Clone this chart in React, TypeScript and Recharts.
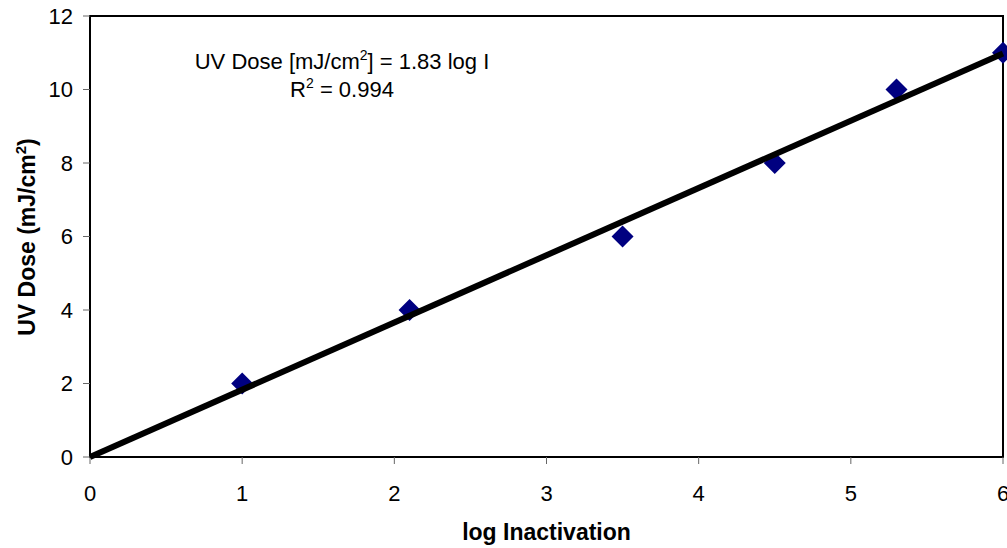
import React from "react";
import {
  ScatterChart,
  Scatter,
  XAxis,
  YAxis,
  ReferenceArea,
  Label,
} from "recharts";

// measured points: log inactivation vs UV dose
const logInactivation = [1, 2.1, 3.5, 4.5, 5.3, 6];
const uvDose = [2, 4, 6, 8, 10, 11];

// fitted trend: UV Dose = 1.83 log I
const trendX = [0, 6];
const trendY = [0, 10.98];

const xTicks = [0, 1, 2, 3, 4, 5, 6];
const yTicks = [0, 2, 4, 6, 8, 10, 12];

const FONT = '"Liberation Sans", Arial, sans-serif';

const points = logInactivation.map((x, i) => ({ x, y: uvDose[i] }));
const trend = trendX.map((x, i) => ({ x, y: trendY[i] }));

const Diamond = (props: any) => {
  const { cx, cy } = props;
  const r = 11;
  return (
    <polygon
      points={`${cx},${cy - r} ${cx + r},${cy} ${cx},${cy + r} ${cx - r},${cy}`}
      fill="#000080"
    />
  );
};

const NoDot = () => <g />;

const Equation = (props: any) => {
  const vb = props.viewBox || { x: 90, y: 16 };
  const cx = vb.x + 252;
  return (
    <g fontFamily={FONT} fontSize={22} fill="#000">
      <text x={cx} y={vb.y + 53} textAnchor="middle">
        UV Dose [mJ/cm
        <tspan dy={-9} fontSize={14}>
          2
        </tspan>
        <tspan dy={9}>] = 1.83 log I</tspan>
      </text>
      <text x={cx} y={vb.y + 81} textAnchor="middle">
        R
        <tspan dy={-9} fontSize={14}>
          2
        </tspan>
        <tspan dy={9}> = 0.994</tspan>
      </text>
    </g>
  );
};

const YTitle = () => (
  <text
    x={35}
    y={237}
    transform="rotate(-90, 35, 237)"
    textAnchor="middle"
    fontFamily={FONT}
    fontSize={23}
    fontWeight="bold"
    fill="#000"
  >
    UV Dose (mJ/cm
    <tspan dy={-9} fontSize={15}>
      2
    </tspan>
    <tspan dy={9}>)</tspan>
  </text>
);

export default function App() {
  const tickStyle = { fill: "#000", fontSize: 22, fontFamily: FONT };
  return (
    <div style={{ position: "absolute", left: 0, top: 0, background: "#fff" }}>
      <ScatterChart
        width={1007}
        height={548}
        margin={{ top: 16, right: 4, bottom: 0, left: 0 }}
      >
        <XAxis
          type="number"
          dataKey="x"
          domain={[0, 6]}
          ticks={xTicks}
          interval={0}
          height={91}
          tickSize={7}
          tickMargin={21}
          tick={tickStyle}
          axisLine={{ stroke: "#000", strokeWidth: 2 }}
          tickLine={{ stroke: "#666" }}
        >
          <Label
            value="log Inactivation"
            position="insideBottom"
            offset={8}
            style={{
              fontFamily: FONT,
              fontSize: 23,
              fontWeight: "bold",
              fill: "#000",
            }}
          />
        </XAxis>
        <YAxis
          type="number"
          dataKey="y"
          domain={[0, 12]}
          ticks={yTicks}
          interval={0}
          width={90}
          tickSize={7}
          tickMargin={10}
          tick={tickStyle}
          axisLine={{ stroke: "#000", strokeWidth: 2 }}
          tickLine={{ stroke: "#666" }}
          label={<YTitle />}
        />
        <ReferenceArea
          x1={0}
          x2={6}
          y1={0}
          y2={12}
          fill="none"
          stroke="#000"
          strokeWidth={2}
          fillOpacity={0}
          ifOverflow="visible"
          label={<Equation />}
        />
        <Scatter
          data={points}
          shape={<Diamond />}
          isAnimationActive={false}
        />
        <Scatter
          data={trend}
          line={{ stroke: "#000", strokeWidth: 6 }}
          shape={<NoDot />}
          isAnimationActive={false}
        />
      </ScatterChart>
    </div>
  );
}
